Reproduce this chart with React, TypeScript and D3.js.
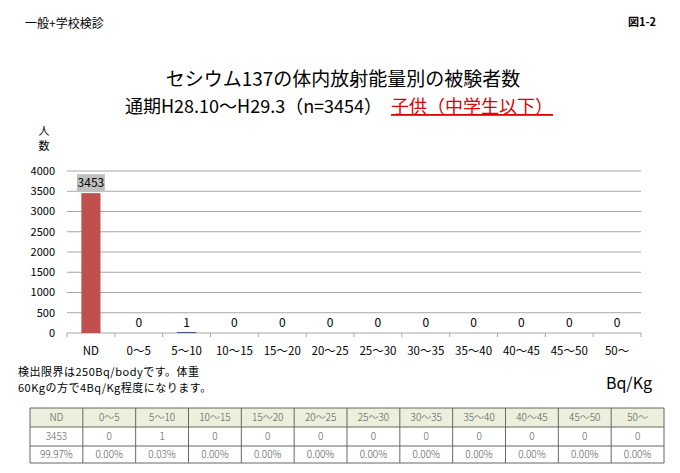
import { useRef, useEffect } from 'react'
import * as d3 from 'd3'

const categories = ['ND', '0～5', '5～10', '10～15', '15～20', '20～25', '25～30', '30～35', '35～40', '40～45', '45～50', '50～']
const counts = [3453, 0, 1, 0, 0, 0, 0, 0, 0, 0, 0, 0]
const shares = ['99.97%', '0.00%', '0.03%', '0.00%', '0.00%', '0.00%', '0.00%', '0.00%', '0.00%', '0.00%', '0.00%', '0.00%']
const yTicks = [0, 500, 1000, 1500, 2000, 2500, 3000, 3500, 4000]

const FONT = '"Noto Sans CJK JP", "Noto Sans", sans-serif'

export default function App() {
  const svgRef = useRef<SVGSVGElement>(null)

  useEffect(() => {
    if (!svgRef.current) return
    const svg = d3.select(svgRef.current)
    svg.selectAll('*').remove()

    const width = 680
    const height = 473
    svg.attr('width', width).attr('height', height).style('display', 'block').style('background', '#fff')

    // Header texts
    svg.append('text').attr('x', 25).attr('y', 28).attr('font-size', 12).attr('font-family', FONT).text('一般+学校検診')
    svg.append('text').attr('x', 656).attr('y', 26).attr('text-anchor', 'end').attr('font-size', 11).attr('font-weight', 'bold').attr('font-family', FONT).text('図1-2')

    svg.append('text').attr('x', 343).attr('y', 86).attr('text-anchor', 'middle').attr('font-size', 19).attr('font-family', FONT).text('セシウム137の体内放射能量別の被験者数')

    const sub = svg.append('text').attr('x', 125).attr('y', 113).attr('font-size', 18).attr('font-family', FONT)
    sub.append('tspan').attr('fill', '#000').text('通期H28.10～H29.3（n=3454）　')
    sub.append('tspan').attr('fill', '#e00000').attr('text-decoration', 'underline').text('子供（中学生以下）')

    // Chart
    const margin = { left: 67, right: 39, top: 171, bottom: 140 }
    const innerW = width - margin.left - margin.right
    const innerH = height - margin.top - margin.bottom
    const g = svg.append('g').attr('transform', `translate(${margin.left},${margin.top})`)

    const x = d3.scaleBand().domain(categories).range([0, innerW]).paddingInner(0.6).paddingOuter(0.3)
    const y = d3.scaleLinear().domain([0, 4000]).range([innerH, 0])
    const step = x.step()

    g.selectAll('.grid')
      .data(yTicks)
      .enter()
      .append('line')
      .attr('x1', 0)
      .attr('x2', innerW)
      .attr('y1', (d) => y(d))
      .attr('y2', (d) => y(d))
      .attr('stroke', '#a6a6a6')
      .attr('stroke-width', 1)

    g.selectAll('.ylab')
      .data(yTicks)
      .enter()
      .append('text')
      .attr('x', -12)
      .attr('y', (d) => y(d))
      .attr('dy', '0.35em')
      .attr('text-anchor', 'end')
      .attr('font-size', 11)
      .attr('font-family', FONT)
      .text((d) => d)

    // Category ticks under axis
    d3.range(categories.length + 1).forEach((i) => {
      g.append('line')
        .attr('x1', i * step)
        .attr('x2', i * step)
        .attr('y1', innerH)
        .attr('y2', innerH + 4)
        .attr('stroke', '#a6a6a6')
    })

    // tiny values get a 1px sliver so they stay visible, as in the original
    g.selectAll('.bar')
      .data(counts)
      .enter()
      .append('rect')
      .attr('x', (_, i) => x(categories[i])!)
      .attr('width', x.bandwidth())
      .attr('y', (d) => y(d) - (d > 0 && d < 50 ? 1 : 0))
      .attr('height', (d) => innerH - y(d) + (d > 0 && d < 50 ? 1 : 0))
      .attr('fill', (d) => (d < 50 ? '#4a5a7a' : '#c0504d'))

    counts.forEach((v, i) => {
      const cx = x(categories[i])! + x.bandwidth() / 2
      if (v > 100) {
        g.append('rect')
          .attr('x', cx - 14)
          .attr('y', y(v) - 19)
          .attr('width', 28)
          .attr('height', 18)
          .attr('fill', '#c0c0c0')
      }
      g.append('text')
        .attr('x', cx)
        .attr('y', y(v) - 10)
        .attr('dy', '0.35em')
        .attr('text-anchor', 'middle')
        .attr('font-size', 12)
        .attr('font-family', FONT)
        .text(v)
      g.append('text')
        .attr('x', cx)
        .attr('y', innerH + 18)
        .attr('dy', '0.35em')
        .attr('text-anchor', 'middle')
        .attr('font-size', 11.5)
        .attr('font-family', FONT)
        .text(categories[i])
    })

    // y axis title (vertical)
    svg.append('text').attr('x', 44).attr('y', 135).attr('text-anchor', 'middle').attr('font-size', 11).attr('font-family', FONT).text('人')
    svg.append('text').attr('x', 44).attr('y', 150).attr('text-anchor', 'middle').attr('font-size', 11).attr('font-family', FONT).text('数')

    // notes
    svg.append('text').attr('x', 18).attr('y', 376).attr('font-size', 11).attr('letter-spacing', 0.5).attr('font-family', FONT).text('検出限界は250Bq/bodyです。体重')
    svg.append('text').attr('x', 18).attr('y', 392).attr('font-size', 11).attr('letter-spacing', 0.5).attr('font-family', FONT).text('60Kgの方で4Bq/Kg程度になります。')
    svg.append('text').attr('x', 652).attr('y', 389).attr('text-anchor', 'end').attr('font-size', 16).attr('font-family', FONT).text('Bq/Kg')

    // Data table
    const tx = d3.scaleBand().domain(categories).range([30, 664])
    const rowTops = [408, 427, 446, 463]
    const rows = [categories, counts.map(String), shares]
    svg.append('rect').attr('x', 30).attr('y', rowTops[0]).attr('width', 634).attr('height', rowTops[1] - rowTops[0]).attr('fill', '#ebefdc')
    rows.forEach((row, r) => {
      row.forEach((t, i) => {
        svg.append('text')
          .attr('x', tx(categories[i])! + tx.bandwidth() / 2)
          .attr('y', (rowTops[r] + rowTops[r + 1]) / 2)
          .attr('dy', '0.35em')
          .attr('text-anchor', 'middle')
          .attr('font-size', 10)
          .attr('font-weight', 300)
          .attr('fill', '#555')
          .attr('font-family', FONT)
          .text(t)
      })
    })
    rowTops.forEach((ty) => {
      svg.append('line').attr('x1', 30).attr('x2', 664).attr('y1', ty).attr('y2', ty).attr('stroke', '#666').attr('stroke-width', 1)
    })
    d3.range(categories.length + 1).forEach((i) => {
      const lx = 30 + i * tx.step()
      svg.append('line').attr('x1', lx).attr('x2', lx).attr('y1', rowTops[0]).attr('y2', rowTops[3]).attr('stroke', '#666').attr('stroke-width', 1)
    })
  }, [])

  return (
    <div style={{ margin: -8 }}>
      <svg ref={svgRef} />
    </div>
  )
}
